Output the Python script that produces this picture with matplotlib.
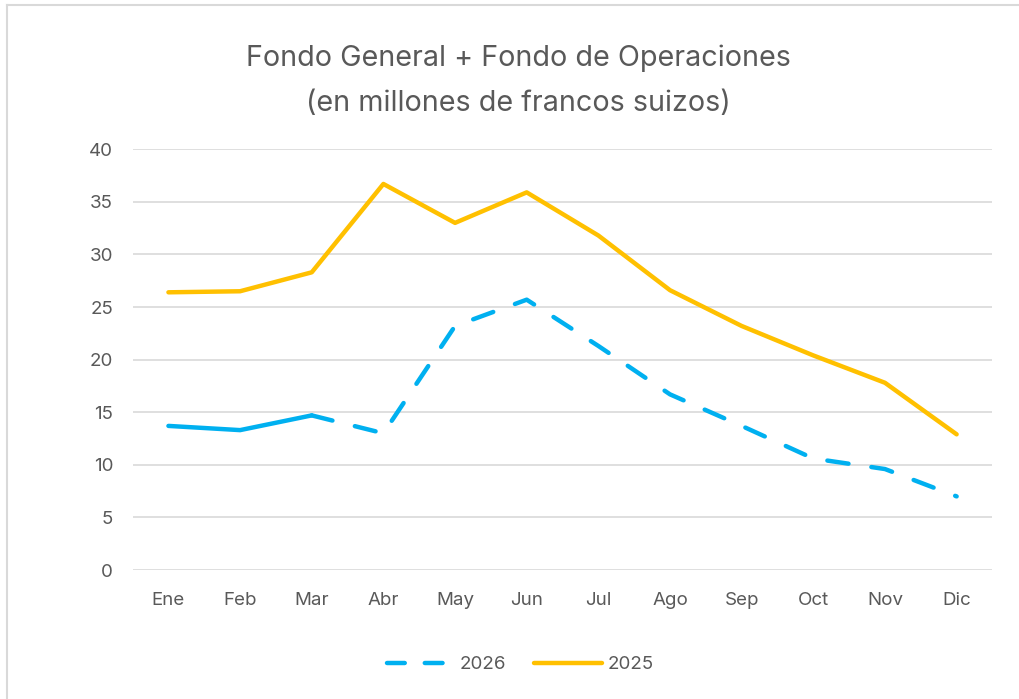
import matplotlib.pyplot as plt
from matplotlib.lines import Line2D

plt.rcParams['font.family'] = ['Inter', 'DejaVu Sans']

meses = ['Ene', 'Feb', 'Mar', 'Abr', 'May', 'Jun', 'Jul', 'Ago', 'Sep', 'Oct', 'Nov', 'Dic']
serie_2026 = [13.7, 13.3, 14.7, 13.0, 23.2, 25.7, 21.3, 16.7, 13.7, 10.6, 9.6, 7.0]
serie_2025 = [26.4, 26.5, 28.3, 36.7, 33.0, 35.9, 31.8, 26.6, 23.2, 20.4, 17.8, 12.9]
yticks = [0, 5, 10, 15, 20, 25, 30, 35, 40]
n_real = 3  # 2026: valores reales hasta Mar, luego proyeccion

azul = '#00B0F0'
amarillo = '#FFC000'
gris = '#595959'

fig = plt.figure(figsize=(10.2, 6.99), dpi=100)
ax = fig.add_axes([0.130, 0.1845, 0.843, 0.602])

x = list(range(len(meses)))
ax.plot(x[:n_real], serie_2026[:n_real], color=azul, lw=3.2, solid_capstyle='round',
        solid_joinstyle='round', zorder=3)
ax.plot(x[n_real - 1:], serie_2026[n_real - 1:], color=azul, lw=3.2, dashes=(4.8, 5.2),
        dash_capstyle='round', zorder=3)
ax.plot(x, serie_2025, color=amarillo, lw=3.2, solid_capstyle='round',
        solid_joinstyle='round', zorder=3)

ax.set_xlim(-0.5, len(meses) - 0.5)
ax.set_ylim(0, 40)
ax.set_xticks(x)
ax.set_xticklabels(meses)
ax.set_yticks(yticks)
ax.grid(axis='y', color='#d9d9d9', lw=1.2)
ax.set_axisbelow(True)
for s in ax.spines.values():
    s.set_visible(False)
ax.tick_params(length=0, labelsize=13.5, labelcolor=gris, pad=16)
ax.tick_params(axis='y', pad=14)

fig.text(0.508, 0.917, 'Fondo General + Fondo de Operaciones', ha='center', va='center',
         fontsize=20.7, color=gris)
fig.text(0.508, 0.852, '(en millones de francos suizos)', ha='center', va='center',
         fontsize=20.7, color=gris)

handles = [Line2D([], [], color=azul, lw=3.2, dashes=(4.0, 4.5), dash_capstyle='round'),
           Line2D([], [], color=amarillo, lw=3.2, solid_capstyle='round')]
fig.legend(handles, ['2026', '2025'], loc='center', bbox_to_anchor=(0.51, 0.049), ncol=2,
           frameon=False, fontsize=13.5, labelcolor=gris, handlelength=3.6,
           handletextpad=0.3, columnspacing=1.5)

# borde del area del grafico
fig.add_artist(Line2D([0.007, 0.007], [0, 0.993], color='#d9d9d9', lw=1.5))
fig.add_artist(Line2D([0.007, 1], [0.993, 0.993], color='#d9d9d9', lw=1.5))

fig.savefig('out.png', dpi=100)
